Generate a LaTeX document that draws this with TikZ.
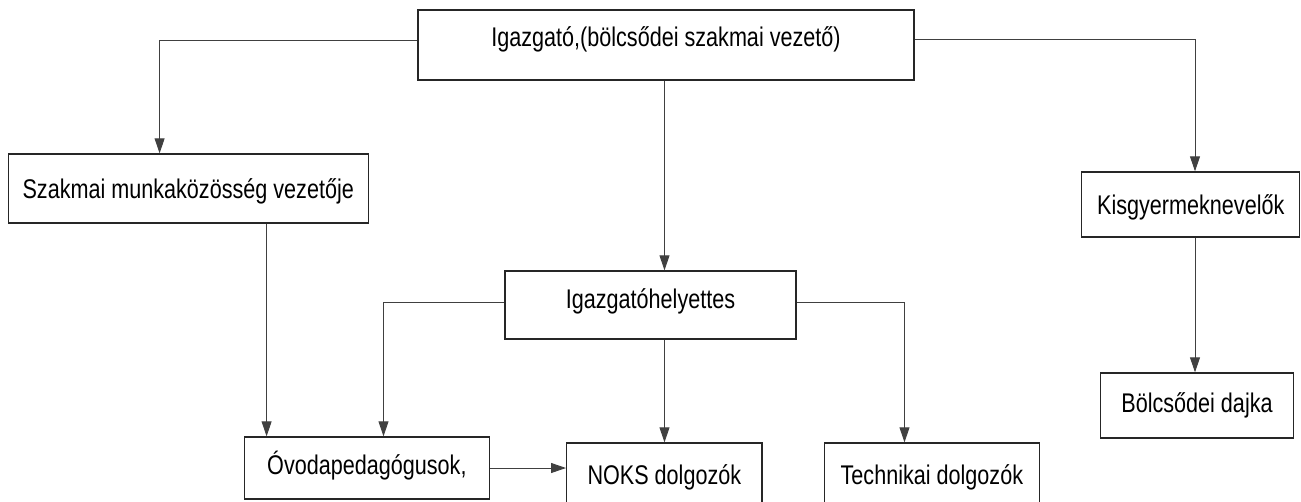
\documentclass[tikz,border=0pt]{standalone}
\usepackage{fontspec}
\setmainfont{Liberation Sans}[FakeStretch=0.8]
\usetikzlibrary{arrows.meta}
\tikzset{
  box/.style={draw=black!85, line width=1.4pt, rectangle, inner sep=0pt,
    font=\fontsize{27}{31}\selectfont, text height=24pt, text depth=5pt},
  arr/.style={draw=black!75, line width=0.9pt, -{Triangle[width=10pt,length=15pt]}},
}
\begin{document}
\begin{tikzpicture}[x=1pt,y=-1pt]
\useasboundingbox (0,0) rectangle (1301,501);
\clip (0,0) rectangle (1301,501);
\fill[white] (0,0) rectangle (1301,501);
\node[box, minimum width=496pt, minimum height=70pt, text depth=21pt] (top) at (666,45) {Igazgató,(bölcsődei szakmai vezető)};
\node[box, minimum width=360pt, minimum height=69pt] (szak) at (188.25,188.5) {Szakmai munkaközösség vezetője};
\node[box, minimum width=218pt, minimum height=65pt] (kis) at (1190.75,204.5) {Kisgyermeknevelők};
\node[box, minimum width=291pt, minimum height=68pt, text depth=17pt] (hely) at (650.5,305) {Igazgatóhelyettes};
\node[box, minimum width=244.6pt, minimum height=62pt, text depth=11pt] (ovoda) at (366.9,468) {Óvodapedagógusok,};
\node[box, minimum width=195.3pt, minimum height=64pt] (noks) at (664.35,475) {NOKS dolgozók};
\node[box, minimum width=215pt, minimum height=64pt] (tech) at (931.9,475) {Technikai dolgozók};
\node[box, minimum width=193pt, minimum height=65pt, text depth=11pt] (dajka) at (1197,405.5) {Bölcsődei dajka};

\draw[arr] ([yshift=5pt]top.west) -| ([xshift=-28.65pt]szak.north);
\draw[arr] ([yshift=6pt]top.east) -| ([xshift=4.25pt]kis.north);
\draw[arr] ([xshift=-1.5pt]top.south) -- ([xshift=-1.5pt]top.south |- hely.north);
\draw[arr] ([xshift=78.35pt]szak.south) -- ([xshift=78.35pt]szak.south |- ovoda.north);
\draw[arr] ([yshift=3pt]hely.west) -| ([xshift=16.6pt]ovoda.north);
\draw[arr] ([yshift=3pt]hely.east) -| ([xshift=-27.4pt]tech.north);
\draw[arr] ([xshift=14pt]hely.south) -- ([xshift=14pt]hely.south |- noks.north);
\draw[arr] (ovoda.east) -- (ovoda.east -| noks.west);
\draw[arr] ([xshift=4.25pt]kis.south) -- ([xshift=4.25pt]kis.south |- dajka.north);
\end{tikzpicture}
\end{document}
